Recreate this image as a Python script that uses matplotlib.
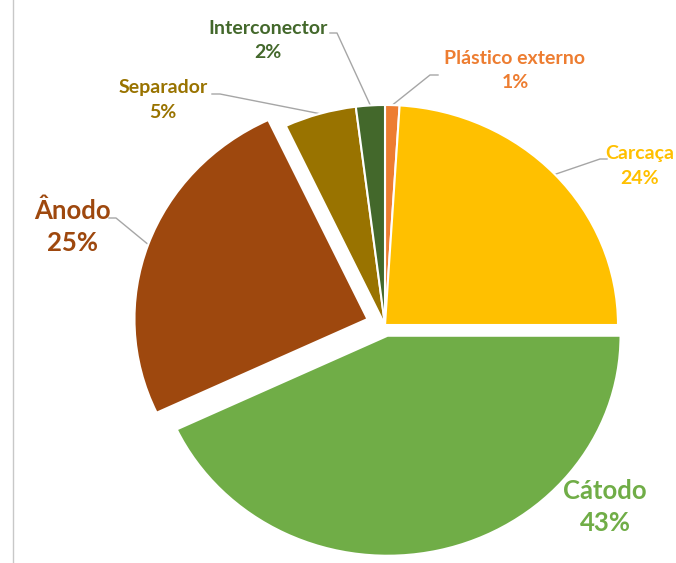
import numpy as np
import matplotlib
matplotlib.use('Agg')
import matplotlib.pyplot as plt
from matplotlib.lines import Line2D

# composição da célula (%), sentido horário a partir do topo
componentes = ['Plástico externo', 'Carcaça', 'Cátodo', 'Ânodo', 'Separador', 'Interconector']
percentuais = [1, 24, 43, 25, 5, 2]
cores = ['#ED7D31', '#FFC000', '#70AD47', '#9E480E', '#997300', '#43682B']
destaque = [0, 0, 0.05, 0.08, 0, 0]

# ─── LAYOUT (pixels) ─────────────────────────────────────────────────────────
W, H = 676, 563
CX, CY = 385, 325
RX, RY = 233, 220

# posição do rótulo, ponta do conector, tamanho da fonte e entrelinha
rotulos = {
    'Plástico externo': dict(pos=(515, 70), ponta=(438, 75), cotovelo=430, fs=14, ls=1.5),
    'Carcaça':          dict(pos=(640, 166), ponta=(607, 159), cotovelo=600, fs=14, ls=1.5),
    'Cátodo':           dict(pos=(605, 507), ponta=None, cotovelo=None, fs=18.5, ls=1.4),
    'Ânodo':            dict(pos=(72, 227), ponta=(109, 218), cotovelo=116, fs=18.5, ls=1.4),
    'Separador':        dict(pos=(163, 100), ponta=(212, 94), cotovelo=220, fs=14, ls=1.5),
    'Interconector':    dict(pos=(268, 40), ponta=(330, 33), cotovelo=337, fs=14, ls=1.5),
}


def px(x, y):
    return (x - CX) / RX, (CY - y) / RY


fig = plt.figure(figsize=(W / 100, H / 100), dpi=100)
ax = fig.add_axes([0, 0, 1, 1])
wedges, _ = ax.pie(percentuais, colors=cores, explode=destaque, startangle=90,
                   counterclock=False, radius=1,
                   wedgeprops=dict(edgecolor='white', linewidth=1.5))
ax.set_aspect('auto')
ax.set_xlim(-CX / RX, (W - CX) / RX)
ax.set_ylim(-(H - CY) / RY, CY / RY)
ax.axis('off')

for nome, valor, cor, w in zip(componentes, percentuais, cores, wedges):
    cfg = rotulos[nome]
    tx, ty = px(*cfg['pos'])
    ax.text(tx, ty, f"{nome}\n{valor}%", ha='center', va='center', color=cor,
            fontsize=cfg['fs'], fontweight='bold', family=['Lato', 'DejaVu Sans'],
            linespacing=cfg['ls'])
    if cfg['ponta'] is None:
        continue
    meio = np.deg2rad((w.theta1 + w.theta2) / 2)
    ex = w.center[0] + np.cos(meio)
    ey = w.center[1] + np.sin(meio)
    x0, y0 = px(*cfg['ponta'])
    x1, _ = px(cfg['cotovelo'], 0)
    ax.plot([x0, x1, ex], [y0, y0, ey], color='#a6a6a6', lw=1, zorder=0)

# borda esquerda
fig.add_artist(Line2D([12.5 / W, 12.5 / W], [0, 1], color='#c8c8c8', lw=1))

plt.savefig('out.png', dpi=100)
